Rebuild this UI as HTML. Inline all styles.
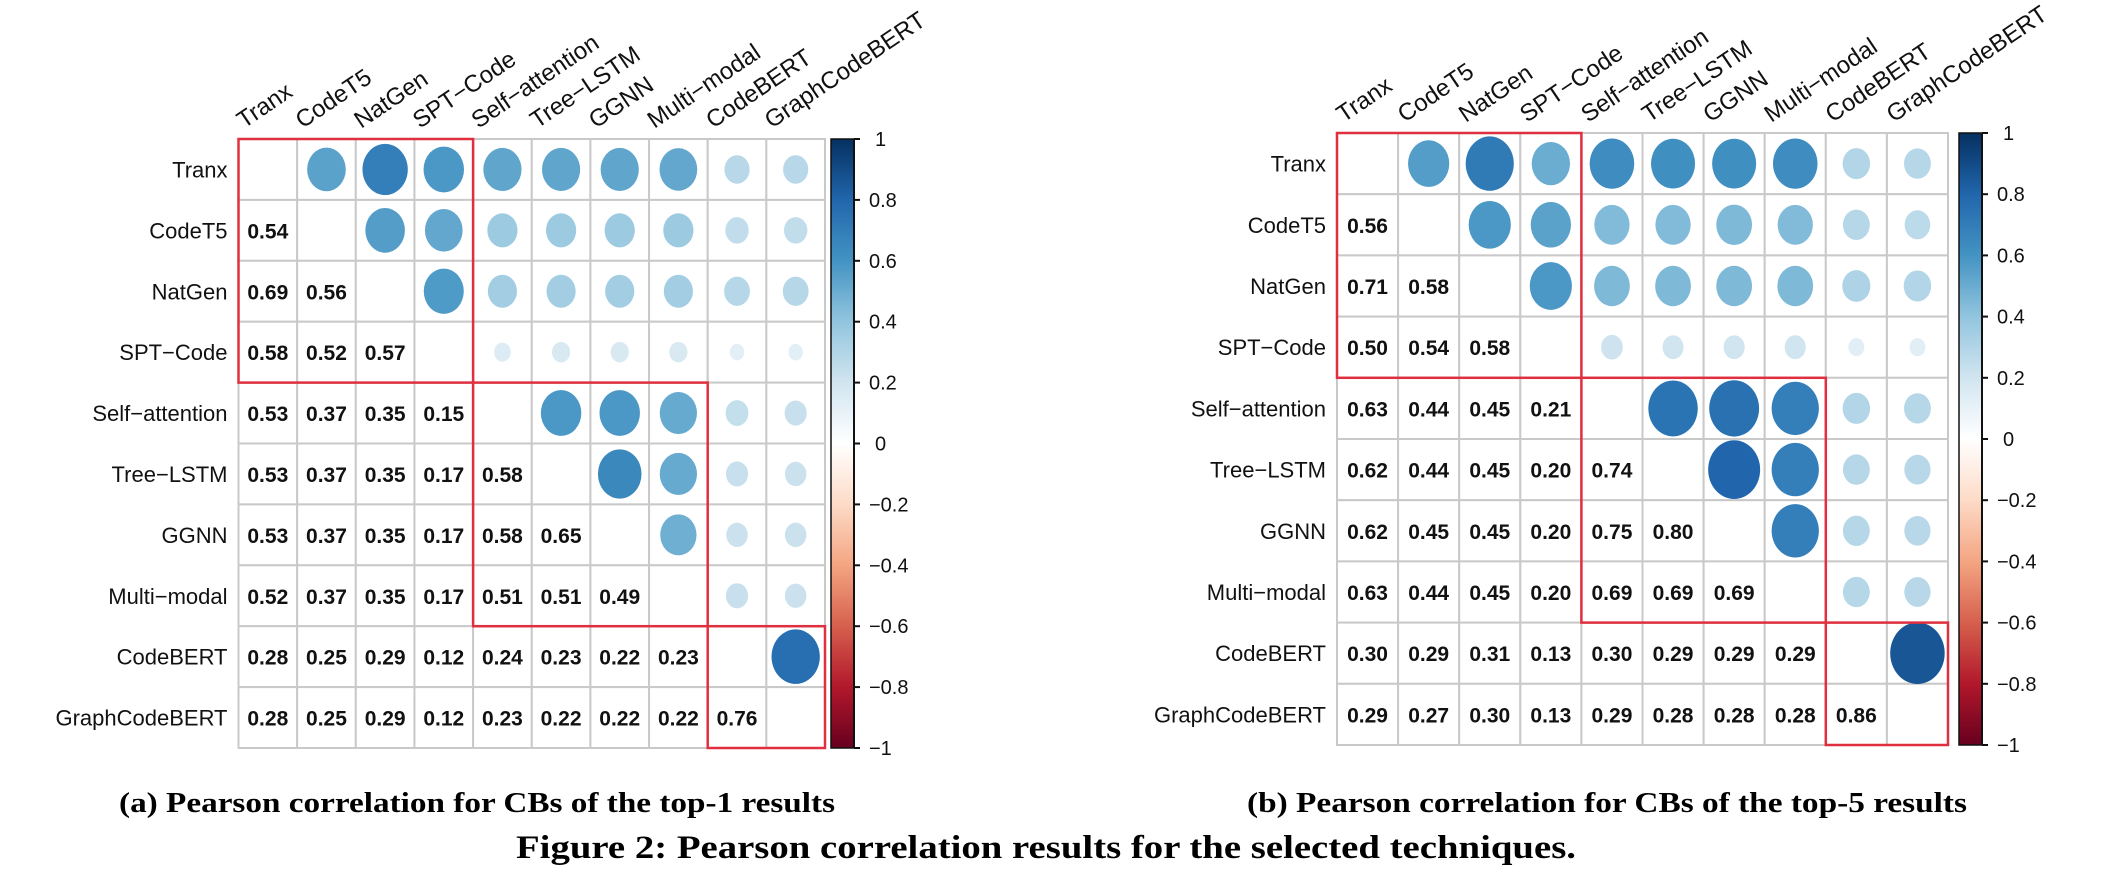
<!DOCTYPE html>
<html><head><meta charset="utf-8">
<style>
html,body{margin:0;padding:0;background:#fff;}
svg{display:block;}
text{font-family:"Liberation Sans",sans-serif;}
.cap{font-family:"Liberation Serif",serif;font-weight:bold;fill:#000;}
</style></head>
<body>
<svg id="fig" width="2112" height="874" viewBox="0 0 2112 874" xmlns="http://www.w3.org/2000/svg">
<defs>
<linearGradient id="rdbu" x1="0" y1="1" x2="0" y2="0">
<stop offset="0" stop-color="#67001F"/><stop offset="0.1" stop-color="#B2182B"/><stop offset="0.2" stop-color="#D6604D"/><stop offset="0.3" stop-color="#F4A582"/><stop offset="0.4" stop-color="#FDDBC7"/><stop offset="0.5" stop-color="#FFFFFF"/><stop offset="0.6" stop-color="#D1E5F0"/><stop offset="0.7" stop-color="#92C5DE"/><stop offset="0.8" stop-color="#4393C3"/><stop offset="0.9" stop-color="#2166AC"/><stop offset="1" stop-color="#053061"/>
</linearGradient>
</defs>
<g id="chartA"></g>
<g id="chartB"></g>
<text class="cap" x="119" y="812" font-size="29" textLength="716" lengthAdjust="spacingAndGlyphs">(a) Pearson correlation for CBs of the top-1 results</text>
<text class="cap" x="1247" y="812" font-size="29" textLength="720" lengthAdjust="spacingAndGlyphs">(b) Pearson correlation for CBs of the top-5 results</text>
<text class="cap" x="516" y="858" font-size="33" textLength="1060" lengthAdjust="spacingAndGlyphs">Figure 2: Pearson correlation results for the selected techniques.</text>
</svg>
<script>
const labels = ["Tranx","CodeT5","NatGen","SPT\u2212Code","Self\u2212attention","Tree\u2212LSTM","GGNN","Multi\u2212modal","CodeBERT","GraphCodeBERT"];
const lowerA = [
 [],
 [0.54],
 [0.69,0.56],
 [0.58,0.52,0.57],
 [0.53,0.37,0.35,0.15],
 [0.53,0.37,0.35,0.17,0.58],
 [0.53,0.37,0.35,0.17,0.58,0.65],
 [0.52,0.37,0.35,0.17,0.51,0.51,0.49],
 [0.28,0.25,0.29,0.12,0.24,0.23,0.22,0.23],
 [0.28,0.25,0.29,0.12,0.23,0.22,0.22,0.22,0.76]
];
const lowerB = [
 [],
 [0.56],
 [0.71,0.58],
 [0.50,0.54,0.58],
 [0.63,0.44,0.45,0.21],
 [0.62,0.44,0.45,0.20,0.74],
 [0.62,0.45,0.45,0.20,0.75,0.80],
 [0.63,0.44,0.45,0.20,0.69,0.69,0.69],
 [0.30,0.29,0.31,0.13,0.30,0.29,0.29,0.29],
 [0.29,0.27,0.30,0.13,0.29,0.28,0.28,0.28,0.86]
];
const groups = [[0,3],[4,7],[8,9]];
const cbTicks = [1,0.8,0.6,0.4,0.2,0,-0.2,-0.4,-0.6,-0.8,-1];

const NS="http://www.w3.org/2000/svg";
function mk(parent,tag,attrs,txt){const e=document.createElementNS(NS,tag);for(const k in attrs)e.setAttribute(k,attrs[k]);if(txt!==undefined)e.textContent=txt;parent.appendChild(e);return e;}
const stops=[[-1,[103,0,31]],[-0.8,[178,24,43]],[-0.6,[214,96,77]],[-0.4,[244,165,130]],[-0.2,[253,219,199]],[0,[255,255,255]],[0.2,[209,229,240]],[0.4,[146,197,222]],[0.6,[67,147,195]],[0.8,[33,102,172]],[1,[5,48,97]]];
function color(v){for(let i=0;i<stops.length-1;i++){const a=stops[i],b=stops[i+1];if(v>=a[0]&&v<=b[0]){const t=(v-a[0])/(b[0]-a[0]);const c=a[1].map((x,j)=>Math.round(x+(b[1][j]-x)*t));return`rgb(${c[0]},${c[1]},${c[2]})`;}}return"#fff";}

function draw(gid,lower,x0,y0,cw,ch,cbx){
 const g=document.getElementById(gid);
 const n=labels.length;
 const val=(i,j)=>i>j?lower[i][j]:lower[j][i];
 const xs=j=>x0+j*cw, ys=i=>y0+i*ch;
 for(let i=0;i<n;i++)for(let j=0;j<n;j++){
  const r=mk(g,'rect',{x:xs(j),y:ys(i),width:cw,height:ch,fill:'#fff',stroke:'#c9c9c9','stroke-width':2});
  
  
 }
 for(let i=0;i<n;i++)for(let j=0;j<n;j++){
  if(i===j)continue;
  const v=val(i,j);
  const cx=xs(j)+cw/2, cy=ys(i)+ch/2;
  if(i>j){
   const t=mk(g,'text',{x:cx,y:cy+8,'text-anchor':'middle','font-size':21,'font-weight':'bold',fill:'#111'},v.toFixed(2));
   
   
  }else{
   const rx=(cw/61)*30*Math.pow(Math.abs(v),0.65);
   const c=mk(g,'ellipse',{cx:cx,cy:cy,rx:rx,ry:rx*1.13,fill:color(v)});
   
   
  }
 }
 for(const [a,b] of groups){
  const bx=mk(g,'rect',{x:xs(a),y:ys(a),width:(b-a+1)*cw,height:(b-a+1)*ch,fill:'none',stroke:'#E0303F','stroke-width':2.5});
  
  
 }
 for(let i=0;i<n;i++){
  const t=mk(g,'text',{x:x0-11,y:ys(i)+ch/2+8,'text-anchor':'end','font-size':22,fill:'#111'},labels[i]);
  
  
 }
 for(let j=0;j<n;j++){
  const lx=xs(j)+cw/2-24, ly=y0-10;
  const t=mk(g,'text',{x:lx,y:ly,'font-size':24,fill:'#111',transform:`rotate(-34 ${lx} ${ly})`},labels[j]);
  
  
 }
 const H=n*ch;
 const bar=mk(g,'rect',{x:cbx,y:y0,width:23,height:H,fill:'url(#rdbu)',stroke:'#111','stroke-width':1.5});
 
 
 mk(g,'line',{x1:cbx+23,y1:y0,x2:cbx+23,y2:y0+H,stroke:'#111','stroke-width':2});
 for(const tv of cbTicks){
  const ty=y0+(1-tv)/2*H;
  const tk=mk(g,'line',{x1:cbx+23,y1:ty,x2:cbx+29,y2:ty,stroke:'#111','stroke-width':2});
  
  
  const s=tv===0?'0':(tv===1?'1':(tv===-1?'\u22121':(tv<0?'\u2212'+Math.abs(tv).toFixed(1):tv.toFixed(1))));
  const off=(tv===0||tv===1)?21:15;
  const tl=mk(g,'text',{x:cbx+23+off,y:ty+7,'font-size':20,fill:'#111'},s);
  
  
 }
}
draw('chartA',lowerA,238.5,139,58.65,60.9,831);
draw('chartB',lowerB,1337,133,61.1,61.2,1959);
</script>
</body></html>
